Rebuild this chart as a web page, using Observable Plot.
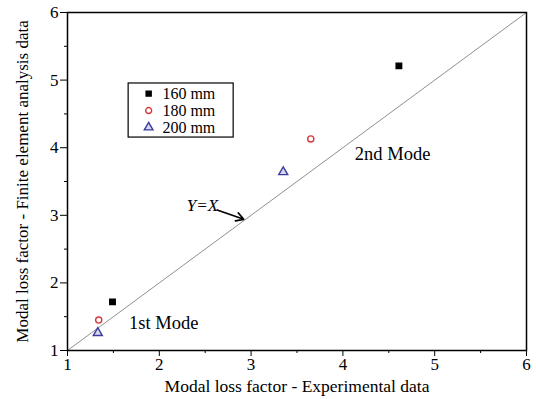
<!DOCTYPE html>
<html><head><meta charset="utf-8">
<script src="https://cdn.jsdelivr.net/npm/d3@7"></script>
<script src="https://cdn.jsdelivr.net/npm/@observablehq/plot@0.6"></script>
<style>body{margin:0;background:#fff} svg text{font-family:"Liberation Serif","Times New Roman",serif}</style>
</head><body><div id="chart"></div>
<script>
const series = ["160 mm", "180 mm", "200 mm"];
const expData = [[1.49, 4.61], [1.34, 3.65], [1.33, 3.35]];
const feaData = [[1.72, 5.21], [1.45, 4.13], [1.26, 3.64]];
const xTicks = [1, 2, 3, 4, 5, 6];
const yTicks = [1, 2, 3, 4, 5, 6];
const minorTicks = [1.5, 2.5, 3.5, 4.5, 5.5];
const modeLabels = ["1st Mode", "2nd Mode"];

const symbols = ["square", "circle", "triangle"];
const strokes = ["#000", "#d8383c", "#3c3c9c"];
const fills = ["#000", "none", "#d8d8f0"];

const points = [];
series.forEach((s, i) => expData[i].forEach((x, k) => points.push({s, i, x, y: feaData[i][k]})));

const legendRows = series.map((s, i) => ({s, i, x: 1.884, y: 4.80 - i * 0.25}));

const font = "Liberation Serif";
const chart = Plot.plot({
  width: 536, height: 399,
  marginLeft: 67, marginRight: 10, marginTop: 12, marginBottom: 49,
  style: {fontFamily: font, fontSize: "16px", color: "#000", background: "#fff"},
  x: {domain: [1, 6]},
  y: {domain: [1, 6]},
  marks: [
    Plot.line([[1, 1], [6, 6]], {stroke: "#909090", strokeWidth: 1}),
    Plot.axisX({ticks: xTicks, tickFormat: "d", tickSize: 6, tickPadding: 1, fontSize: 17, fontFamily: font, label: null}),
    Plot.axisX({ticks: [], label: "Modal loss factor - Experimental data", labelAnchor: "center", labelArrow: "none", labelOffset: 41, fontSize: 17.5, fontFamily: font}),
    Plot.axisX({ticks: minorTicks, tickSize: 3, tickFormat: () => "", label: null}),
    Plot.axisY({ticks: yTicks, tickFormat: "d", tickSize: 7, tickPadding: 2, fontSize: 17, fontFamily: font, label: "Modal loss factor - Finite element analysis data", labelAnchor: "center", labelArrow: "none", labelOffset: 52}),
    Plot.axisY({ticks: minorTicks, tickSize: 3, tickFormat: () => "", label: null}),
    Plot.frame({stroke: "#000", strokeWidth: 1.5}),
    Plot.dot(points, {x: "x", y: "y", symbol: d => symbols[d.i], stroke: d => strokes[d.i], fill: d => fills[d.i], r: d => d.i === 0 ? 4.3 : d.i === 1 ? 4.2 : 5, strokeWidth: 1.4}),
    Plot.text([modeLabels[0]], {x: 1.67, y: 1.41, text: d => d, textAnchor: "start", fontSize: 18.5, fontFamily: font}),
    Plot.text([modeLabels[1]], {x: 4.13, y: 3.9, text: d => d, textAnchor: "start", fontSize: 18.5, fontFamily: font}),
    Plot.text(["Y=X"], {x: 2.47, y: 3.14, text: d => d, fontStyle: "italic", fontSize: 17, fontFamily: font}),
    Plot.arrow([{x1: 2.63, y1: 3.08, x2: 2.92, y2: 2.94}], {x1: "x1", y1: "y1", x2: "x2", y2: "y2", stroke: "#000", strokeWidth: 1.6, headLength: 8, bend: false}),
    Plot.rect([{x1: 1.666, x2: 2.81, y1: 4.15, y2: 4.95}], {x1: "x1", x2: "x2", y1: "y1", y2: "y2", fill: "#fff", stroke: "#000", strokeWidth: 1.2}),
    Plot.dot(legendRows, {x: "x", y: "y", symbol: d => symbols[d.i], stroke: d => strokes[d.i], fill: d => fills[d.i], r: d => d.i === 0 ? 3.6 : d.i === 1 ? 4 : 4.6, strokeWidth: 1.4}),
    Plot.text(legendRows, {x: d => d.x + 0.15, y: "y", text: "s", textAnchor: "start", fontSize: 16, fontFamily: font})
  ]
});
document.getElementById("chart").appendChild(chart);
</script>
</body></html>
